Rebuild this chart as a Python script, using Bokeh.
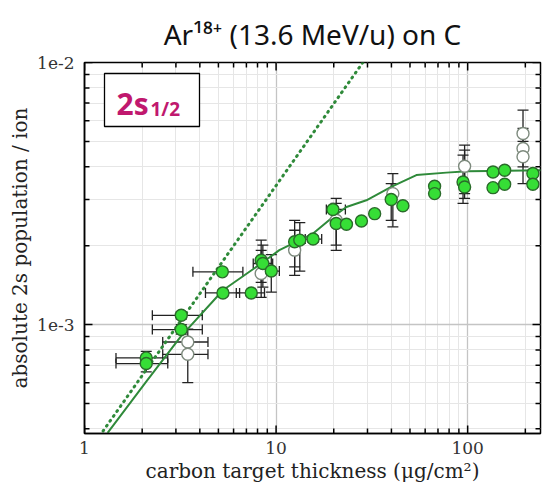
import math
from bokeh.plotting import figure
from bokeh.models import (ColumnDataSource, Whisker, TeeHead, FixedTicker,
                          CustomJSTickFormatter, Label, BoxAnnotation)
from bokeh.embed import file_html
from bokeh.resources import INLINE

# ---------------- data ----------------
# filled symbols
f_x = [2.10, 2.10, 3.20, 3.20, 5.24, 5.28, 7.42, 8.36, 8.53, 9.44, 12.5, 13.3, 15.6,
       19.8, 20.6, 23.3, 27.9, 32.7, 39.9, 45.9, 67.2, 67.2, 94.6, 96.4, 135.6, 135.6,
       156.0, 156.0, 219.0, 219.0]
f_y = [7.46e-4, 7.10e-4, 1.085e-3, 9.57e-4, 1.589e-3, 1.32e-3, 1.32e-3, 1.76e-3, 1.71e-3,
       1.60e-3, 2.07e-3, 2.10e-3, 2.12e-3, 2.75e-3, 2.43e-3, 2.415e-3, 2.485e-3, 2.65e-3,
       3.0e-3, 2.84e-3, 3.37e-3, 3.16e-3, 3.50e-3, 3.35e-3, 3.82e-3, 3.33e-3, 3.88e-3,
       3.43e-3, 3.77e-3, 3.43e-3]
f_ylo = [7.1e-4, 6.6e-4, 1.05e-3, 9.2e-4, 1.55e-3, 1.29e-3, 1.29e-3, 1.45e-3, 1.39e-3,
         1.33e-3, 1.66e-3, 1.60e-3, 2.06e-3, 2.68e-3, 2.01e-3, 2.36e-3, 2.42e-3, 2.58e-3,
         2.50e-3, 2.78e-3, 3.30e-3, 3.09e-3, 2.90e-3, 3.03e-3, 3.74e-3, 3.26e-3, 3.80e-3,
         3.36e-3, 3.69e-3, 3.36e-3]
f_yhi = [7.9e-4, 7.5e-4, 1.12e-3, 1.0e-3, 1.63e-3, 1.35e-3, 1.35e-3, 2.10e-3, 2.01e-3,
         1.85e-3, 2.50e-3, 2.45e-3, 2.18e-3, 2.82e-3, 2.90e-3, 2.47e-3, 2.55e-3, 2.72e-3,
         3.45e-3, 2.90e-3, 3.44e-3, 3.23e-3, 4.43e-3, 4.63e-3, 3.90e-3, 3.40e-3, 3.96e-3,
         3.50e-3, 3.85e-3, 3.50e-3]
# horizontal error bars of the filled symbols
fx_y = [7.46e-4, 7.10e-4, 1.085e-3, 9.57e-4, 1.589e-3, 1.32e-3, 1.32e-3, 1.71e-3, 1.60e-3,
        2.12e-3, 2.75e-3]
fx_lo = [1.46, 1.46, 2.26, 2.26, 3.68, 4.28, 6.2, 7.6, 8.6, 14.2, 18.3]
fx_hi = [2.72, 2.72, 4.12, 4.12, 6.71, 6.45, 8.7, 9.6, 10.4, 17.3, 23.0]

# open symbols
o_x = [3.46, 3.46, 8.36, 12.5, 20.6, 40.7, 96.4, 194.5, 194.5, 194.5]
o_y = [8.58e-4, 7.70e-4, 1.567e-3, 1.923e-3, 2.50e-3, 3.16e-3, 4.02e-3, 5.36e-3,
       4.70e-3, 4.37e-3]
o_ylo = [7.6e-4, 6.0e-4, 1.27e-3, 1.54e-3, 1.92e-3, 2.36e-3, 3.16e-3, 4.6e-3, 4.0e-3, 3.45e-3]
o_yhi = [9.6e-4, 8.8e-4, 1.92e-3, 2.29e-3, 3.03e-3, 3.77e-3, 4.84e-3, 6.58e-3, 5.6e-3, 5.0e-3]
ox_y = [8.58e-4, 7.70e-4]
ox_lo = [2.56, 2.56]
ox_hi = [4.41, 4.41]

# solid model curve
fit_x = [1.32, 2.1, 3.17, 5.28, 8.36, 10.4, 15.6, 19.8, 23.3, 29.6, 39.9, 54.0, 77.4, 100.0, 243.0]
fit_y = [3.86e-4, 6.06e-4, 8.97e-4, 1.352e-3, 1.71e-3, 1.923e-3, 2.225e-3, 2.575e-3,
         2.81e-3, 2.98e-3, 3.35e-3, 3.72e-3, 3.80e-3, 3.85e-3, 3.88e-3]
# dotted line
dot_x = [1.15, 30.0]
dot_y = [3.6e-4, 1.06e-2]

# axes
X_RANGE = (1, 240)
Y_RANGE = (3.84e-4, 1e-2)
x_major = [1, 10, 100]
y_major = [1e-3, 1e-2]
x_minor = [m * d for d in (1, 10, 100) for m in range(2, 10)]
y_minor = [m * d for d in (1e-4, 1e-3) for m in range(2, 10)]

# ---------------- layout ----------------
W, H = 542, 491
ML, MR, MT, MB = 84, 2, 62, 58
FW, FH = W - ML - MR, H - MT - MB

LX0, LX1 = math.log10(X_RANGE[0]), math.log10(X_RANGE[1])
LY0, LY1 = math.log10(Y_RANGE[0]), math.log10(Y_RANGE[1])


def dx(px):  # canvas pixel -> data x (decoration placement only)
    return 10 ** (LX0 + (px - ML) / FW * (LX1 - LX0))


def dy(py):  # canvas pixel -> data y (decoration placement only)
    return 10 ** (LY1 - (py - MT) / FH * (LY1 - LY0))


p = figure(width=W, height=H, x_axis_type="log", y_axis_type="log",
           x_range=X_RANGE, y_range=Y_RANGE, output_backend="svg",
           toolbar_location=None, min_border_left=ML, min_border_right=MR,
           min_border_top=MT, min_border_bottom=MB)
p.background_fill_color = "white"
p.border_fill_color = "white"
p.outline_line_color = "black"
p.outline_line_width = 1.5

p.title.text = "Ar¹⁸⁺ (13.6 MeV/u) on C"
p.title.align = "center"
p.title.text_font = "Noto Sans"
p.title.text_font_size = "28px"
p.title.text_font_style = "normal"
p.title.text_color = "#111111"
p.title.standoff = 19

xt = FixedTicker(ticks=x_major, minor_ticks=x_minor)
yt = FixedTicker(ticks=y_major, minor_ticks=y_minor)
p.xaxis[0].ticker = xt
p.yaxis[0].ticker = yt
p.xgrid.ticker = xt
p.ygrid.ticker = yt

for g in (p.xgrid, p.ygrid):
    g.grid_line_color = "#c4c4c4"
    g.grid_line_width = 1.3
    g.minor_grid_line_color = "#e6e6e6"
    g.minor_grid_line_width = 1

for ax in (p.xaxis[0], p.yaxis[0]):
    ax.major_tick_in = 0
    ax.major_tick_out = 0
    ax.minor_tick_in = 0
    ax.minor_tick_out = 0
    ax.axis_line_color = "black"
    ax.axis_line_width = 1.5
    ax.major_label_text_font = "DejaVu Serif"
    ax.major_label_text_font_size = "17px"
    ax.major_label_text_color = "#333333"
    ax.axis_label_text_font = "DejaVu Serif"
    ax.axis_label_text_font_size = "20px"
    ax.axis_label_text_font_style = "normal"
    ax.axis_label_text_color = "#222222"

p.xaxis[0].formatter = CustomJSTickFormatter(code="return String(Math.round(tick));")
p.yaxis[0].formatter = CustomJSTickFormatter(code="return '1e' + Math.round(Math.log10(tick));")
p.xaxis[0].major_label_standoff = 8
p.yaxis[0].major_label_standoff = 10
p.xaxis[0].axis_label = "carbon target thickness (μg/cm²)"
p.xaxis[0].axis_label_standoff = 2
p.yaxis[0].axis_label = "absolute 2s population / ion"
p.yaxis[0].axis_label_standoff = 2

# ---------------- error bars ----------------
err_col = "#222222"
fsrc = ColumnDataSource(dict(x=f_x, y=f_y, lo=f_ylo, hi=f_yhi))
osrc = ColumnDataSource(dict(x=o_x, y=o_y, lo=o_ylo, hi=o_yhi))
fxsrc = ColumnDataSource(dict(y=fx_y, lo=fx_lo, hi=fx_hi))
oxsrc = ColumnDataSource(dict(y=ox_y, lo=ox_lo, hi=ox_hi))

for src in (fsrc, osrc):
    p.add_layout(Whisker(source=src, base="x", lower="lo", upper="hi", dimension="height",
                         line_color=err_col, line_width=1.3, level="underlay",
                         upper_head=TeeHead(size=11, line_color=err_col, line_width=1.3),
                         lower_head=TeeHead(size=11, line_color=err_col, line_width=1.3)))
for src in (fxsrc, oxsrc):
    p.add_layout(Whisker(source=src, base="y", lower="lo", upper="hi", dimension="width",
                         line_color=err_col, line_width=1.3, level="underlay",
                         upper_head=TeeHead(size=10, line_color=err_col, line_width=1.3),
                         lower_head=TeeHead(size=10, line_color=err_col, line_width=1.3)))

# ---------------- lines ----------------
line_col = "#2f8a3a"
p.line(dot_x, dot_y, line_color=line_col, line_width=3, line_dash="1 5", line_cap="round")
p.line(fit_x, fit_y, line_color=line_col, line_width=2)

# ---------------- markers ----------------
p.scatter("x", "y", source=osrc, marker="circle", size=12, fill_color="white",
          line_color="#7d8a7d", line_width=1.4)
p.scatter("x", "y", source=fsrc, marker="circle", size=12, fill_color="#36de36",
          line_color="#2a6b2a", line_width=1.4)

# ---------------- inward ticks on all four frame edges ----------------
for ticks, L in ((x_major, 8), (x_minor, 5)):
    n = len(ticks)
    p.segment(ticks, [Y_RANGE[0]] * n, ticks, [dy(MT + FH - L)] * n,
              line_color="black", line_width=1.5)
    p.segment(ticks, [Y_RANGE[1]] * n, ticks, [dy(MT + L)] * n,
              line_color="black", line_width=1.5)
for ticks, L in ((y_major, 8), (y_minor, 5)):
    n = len(ticks)
    p.segment([X_RANGE[0]] * n, ticks, [dx(ML + L)] * n, ticks,
              line_color="black", line_width=1.5)
    p.segment([X_RANGE[1]] * n, ticks, [dx(ML + FW - L)] * n, ticks,
              line_color="black", line_width=1.5)

# ---------------- inset label ----------------
p.add_layout(BoxAnnotation(left=dx(104), right=dx(199), top=dy(73), bottom=dy(126),
                           fill_color="white", fill_alpha=1, line_color="black",
                           line_width=1.3, line_alpha=1))
mag = "#c0186e"
p.add_layout(Label(x=dx(116), y=dy(102.5), text="2s", text_font="Open Sans",
                   text_font_size="30px", text_font_style="bold", text_color=mag,
                   text_baseline="middle", text_align="left"))
p.add_layout(Label(x=dx(150), y=dy(108.5), text="1/2", text_font="Open Sans",
                   text_font_size="19px", text_font_style="bold", text_color=mag,
                   text_baseline="middle", text_align="left"))

open("out.html", "w").write(file_html(p, INLINE))
